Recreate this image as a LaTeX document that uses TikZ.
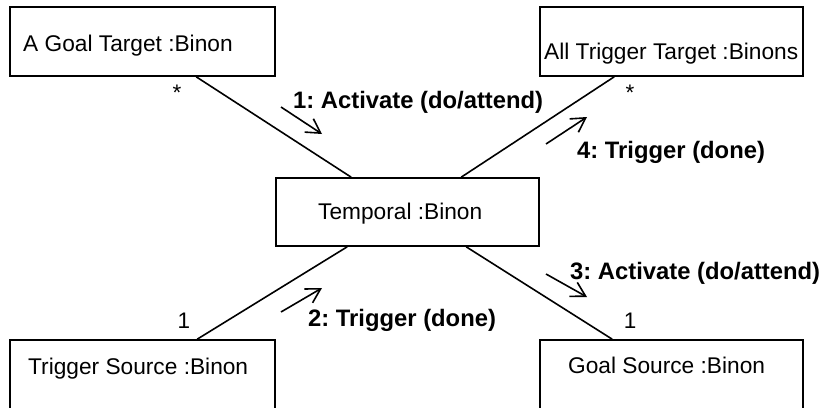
\documentclass[tikz,border=0pt]{standalone}
\usepackage{fontspec}
\setmainfont{Liberation Sans}
\usetikzlibrary{arrows.meta,calc}
\begin{document}
\frenchspacing
\begin{tikzpicture}[x=1pt,y=-1pt,
  box/.style={draw, line width=1.6pt, rectangle, inner sep=0pt},
  objname/.style={font=\fontsize{22.7}{27}\selectfont, inner sep=0pt, anchor=base west},
  msg/.style={font=\fontsize{23.8}{28}\selectfont\bfseries, inner sep=0pt, anchor=base west},
  mult/.style={font=\fontsize{22.5}{27}\selectfont, inner sep=0pt},
  conn/.style={line width=1.6pt},
  msgarrow/.style={line width=1.6pt, -{Straight Barb[length=14pt,width=16pt]}}]
\useasboundingbox (0,0) rectangle (827,407);
\clip (0,0) rectangle (827,407);
% boxes
\node[box, minimum width=265pt, minimum height=69pt] (agt) at (142.5,41.5) {};
\node[box, minimum width=263pt, minimum height=69pt] (att) at (671.5,41.5) {};
\node[box, minimum width=263pt, minimum height=68pt] (tmp) at (407.5,212) {};
\node[box, minimum width=265pt, minimum height=74pt] (tsrc) at (142.5,377) {};
\node[box, minimum width=263pt, minimum height=74pt] (gsrc) at (671.5,377) {};
% box texts
\node[objname] (agtt) at (23,51) {A Goal Target :Binon};
\node[objname] (attt) at (544,59) {All Trigger Target :Binons};
\node[objname] (tmpt) at (318,219) {Temporal :Binon};
\node[objname] (tsrct) at (28,374) {Trigger Source :Binon};
\node[objname] (gsrct) at (568,373) {Goal Source :Binon};
% connectors
\draw[conn] ($(agt.south west)+(187,0)$) -- ($(tmp.north west)+(76,0)$);
\draw[conn] ($(att.south west)+(75,0)$) -- ($(tmp.north west)+(186,0)$);
\draw[conn] ($(tsrc.north west)+(188,0)$) -- ($(tmp.south west)+(72,0)$);
\draw[conn] ($(gsrc.north west)+(73,0)$) -- ($(tmp.south west)+(191,0)$);
% multiplicities
\node[mult] (m1) at (177,93) {*};
\node[mult] (m2) at (630,93) {*};
\node[mult, anchor=base] (m3) at (184,328) {1};
\node[mult, anchor=base] (m4) at (630,328) {1};
% message arrows
\coordinate (a1s) at (281,107); \coordinate (a1e) at (322,134);
\coordinate (a4s) at (546,144); \coordinate (a4e) at (587,117);
\coordinate (a2s) at (281,312); \coordinate (a2e) at (322,288);
\coordinate (a3s) at (546,274); \coordinate (a3e) at (587,297);
\draw[msgarrow] (a1s) -- (a1e);
\draw[msgarrow] (a4s) -- (a4e);
\draw[msgarrow] (a2s) -- (a2e);
\draw[msgarrow] (a3s) -- (a3e);
% message labels
\node[msg] (l1) at (293,108) {1: Activate (do/attend)};
\node[msg] (l4) at (577,158) {4: Trigger (done)};
\node[msg] (l2) at (308,326) {2: Trigger (done)};
\node[msg] (l3) at (570,279) {3: Activate (do/attend)};
\end{tikzpicture}
\end{document}
